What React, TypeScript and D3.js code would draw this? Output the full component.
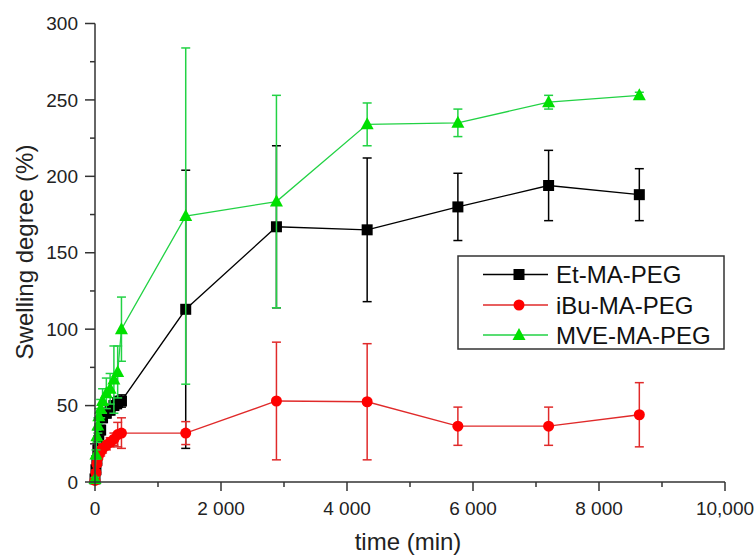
import * as d3 from "d3";
import { useRef, useEffect } from "react";

// sampling times (min)
const times = [0, 15, 30, 45, 60, 90, 120, 180, 240, 300, 360, 420, 1440, 2880, 4320, 5760, 7200, 8640];

const etMean = [2, 8, 14, 21, 27, 34, 42, 45, 47, 50, 52, 53, 113, 167, 165, 180, 194, 188];
const etErr = [1, 2, 2, 3, 3, 3, 3, 3, 3, 3, 4, 4, 91, 53, 47, 22, 23, 17];

const ibuMean = [1, 6, 12, 16, 18, 20, 22, 24, 26, 28, 31, 32, 32, 53, 52.5, 36.5, 36.5, 44];
const ibuErr = [1, 2, 2, 2, 3, 3, 3, 3, 3, 4, 8, 10, 7.5, 38.5, 38, 12.5, 12.5, 21];

const mveMean = [2, 18, 30, 37, 43, 48, 53, 58, 61, 67, 72, 100, 174, 183.5, 234, 235, 248.5, 253];
const mveErr = [1, 3, 4, 5, 5, 6, 8, 10, 10, 22, 17, 21, 110, 69.5, 14, 9, 4.5, 2];

const seriesNames = ["Et-MA-PEG", "iBu-MA-PEG", "MVE-MA-PEG"];

const xMajor = [0, 2000, 4000, 6000, 8000, 10000];
const xLabels = ["0", "2 000", "4 000", "6 000", "8 000", "10,000"];
const xMinor = [1000, 3000, 5000, 7000, 9000];
const yMajor = [0, 50, 100, 150, 200, 250, 300];
const yMinor = [25, 75, 125, 175, 225, 275];

const FONT = "'Liberation Sans', Arial, Helvetica, sans-serif";
const AXIS = "#333";

const App = () => {
  const svgRef = useRef(null);

  useEffect(() => {
    const svg = d3.select(svgRef.current);
    svg.selectAll("*").remove();

    const x = d3.scaleLinear().domain([0, 10000]).range([95, 725]);
    const y = d3.scaleLinear().domain([0, 300]).range([482, 23.5]);

    const series = [
      { name: seriesNames[0], mean: etMean, err: etErr, line: "#000", fill: "#000", shape: "square" },
      { name: seriesNames[1], mean: ibuMean, err: ibuErr, line: "#e02a2a", fill: "#ff0000", shape: "circle" },
      { name: seriesNames[2], mean: mveMean, err: mveErr, line: "#22d244", fill: "#00e000", shape: "triangle" },
    ];

    const drawMarker = (g, shape, color, cx, cy) => {
      if (shape === "square") {
        g.append("rect").attr("x", cx - 5.5).attr("y", cy - 5.5)
          .attr("width", 11).attr("height", 11).attr("fill", color);
      } else if (shape === "circle") {
        g.append("circle").attr("cx", cx).attr("cy", cy).attr("r", 5.5).attr("fill", color);
      } else {
        g.append("path")
          .attr("d", `M${cx},${cy - 7} L${cx + 6.5},${cy + 5} L${cx - 6.5},${cy + 5} Z`)
          .attr("fill", color);
      }
    };

    series.forEach(s => {
      const g = svg.append("g");
      const pts = times.map((t, i) => ({ t, m: s.mean[i], e: s.err[i] }));

      const line = d3.line().x(d => x(d.t)).y(d => y(d.m));
      g.append("path").datum(pts)
        .attr("fill", "none").attr("stroke", s.line).attr("stroke-width", 1.3)
        .attr("d", line);

      pts.forEach(d => {
        const cx = x(d.t);
        g.append("line").attr("x1", cx).attr("x2", cx)
          .attr("y1", y(d.m - d.e)).attr("y2", y(d.m + d.e))
          .attr("stroke", s.line).attr("stroke-width", 1.5);
        [d.m - d.e, d.m + d.e].forEach(v => {
          g.append("line").attr("x1", cx - 4.5).attr("x2", cx + 4.5)
            .attr("y1", y(v)).attr("y2", y(v))
            .attr("stroke", s.line).attr("stroke-width", 1.5);
        });
      });

      pts.forEach(d => drawMarker(g, s.shape, s.fill, x(d.t), y(d.m)));
    });

    // axes
    const ax = svg.append("g").attr("stroke", AXIS).attr("stroke-width", 1.5);
    ax.append("line").attr("x1", x(0)).attr("x2", x(10000)).attr("y1", y(0)).attr("y2", y(0));
    ax.append("line").attr("x1", x(0)).attr("x2", x(0)).attr("y1", y(0)).attr("y2", y(300));
    xMajor.forEach(v => ax.append("line").attr("x1", x(v)).attr("x2", x(v)).attr("y1", y(0)).attr("y2", y(0) + 9));
    xMinor.forEach(v => ax.append("line").attr("x1", x(v)).attr("x2", x(v)).attr("y1", y(0)).attr("y2", y(0) + 5));
    yMajor.forEach(v => ax.append("line").attr("x1", x(0) - 10).attr("x2", x(0)).attr("y1", y(v)).attr("y2", y(v)));
    yMinor.forEach(v => ax.append("line").attr("x1", x(0) - 5).attr("x2", x(0)).attr("y1", y(v)).attr("y2", y(v)));

    const txt = svg.append("g").attr("font-family", FONT).attr("fill", "#222");
    xMajor.forEach((v, i) => {
      txt.append("text").attr("x", x(v)).attr("y", 515).attr("text-anchor", "middle")
        .attr("font-size", 19).text(xLabels[i]);
    });
    yMajor.forEach(v => {
      txt.append("text").attr("x", 78).attr("y", y(v)).attr("dy", "0.35em")
        .attr("text-anchor", "end").attr("font-size", 19).text(String(v));
    });

    txt.append("text").attr("x", 408).attr("y", 550).attr("text-anchor", "middle")
      .attr("font-size", 24).text("time (min)");
    txt.append("text").attr("transform", "translate(33,252) rotate(-90)")
      .attr("text-anchor", "middle").attr("font-size", 24).text("Swelling degree (%)");

    // legend
    const lg = svg.append("g");
    lg.append("rect").attr("x", 458).attr("y", 256).attr("width", 266).attr("height", 93)
      .attr("fill", "white").attr("stroke", AXIS).attr("stroke-width", 1.5);
    const rows = [274.5, 305, 335];
    series.forEach((s, i) => {
      const cy = rows[i];
      lg.append("line").attr("x1", 483).attr("x2", 548).attr("y1", cy).attr("y2", cy)
        .attr("stroke", s.line).attr("stroke-width", 1.3);
      drawMarker(lg, s.shape, s.fill, 519, cy);
      lg.append("text").attr("x", 556).attr("y", cy).attr("dy", "0.36em")
        .attr("font-family", FONT).attr("font-size", 24).attr("fill", "#111")
        .text(s.name);
    });
  }, []);

  return (
    <svg ref={svgRef} width={755} height={559}
      style={{ position: "absolute", left: 0, top: 0, background: "white" }} />
  );
};

export default App;
